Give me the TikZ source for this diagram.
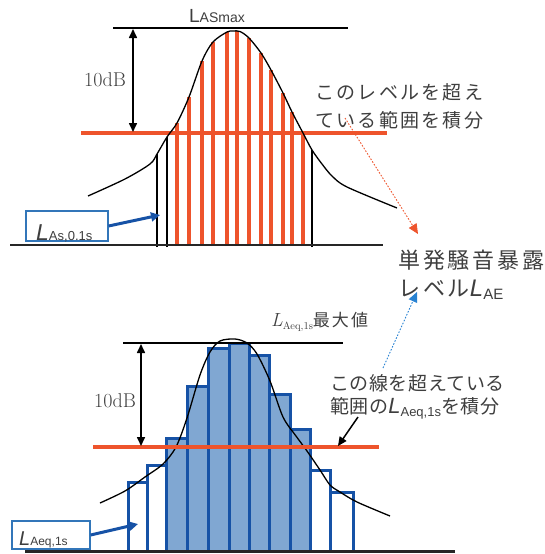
\documentclass[tikz,border=0pt]{standalone}
\usepackage{fontspec}
\usetikzlibrary{arrows.meta}
\newfontfamily\jpA{Noto Sans CJK JP}[LetterSpace=12]
\newfontfamily\jpB{Noto Sans CJK JP}[LetterSpace=13]
\newfontfamily\jpC{Noto Sans CJK JP}[LetterSpace=3]
\newfontfamily\jpD{Noto Sans CJK JP}[LetterSpace=12]
\newfontfamily\lsans{Liberation Sans}
\definecolor{myred}{RGB}{238,84,44}
\definecolor{barblue}{RGB}{22,82,166}
\definecolor{barfill}{RGB}{128,167,210}
\definecolor{boxblue}{RGB}{50,118,185}
\definecolor{txtgray}{RGB}{62,62,62}
\definecolor{dotblue}{RGB}{40,130,210}
\tikzset{
  curve/.style={black, line width=1.3pt, line join=round},
  redv/.style={myred, line width=3.2pt},
  blackv/.style={black, line width=1.8pt},
  redh/.style={myred, line width=3.4pt},
  refline/.style={black, line width=1.4pt},
  baseln/.style={black!85, line width=2pt},
  dimarrow/.style={black, line width=1.6pt, {Triangle[length=9pt,width=8pt]}-{Triangle[length=9pt,width=8pt]}},
  bluearrow/.style={barblue, line width=3pt, -{Triangle[length=9pt,width=9pt]}},
  lbox/.style={draw=boxblue, line width=1.3pt, fill=white, inner sep=0pt},
  barw/.style={draw=barblue, line width=3pt, fill=white},
  barf/.style={draw=barblue, line width=3pt, fill=barfill},
  jptext/.style={text=txtgray, inner sep=0pt, anchor=west},
  dotarrow/.style={line width=0.9pt, dash pattern=on 1.6pt off 1.6pt, -{Triangle[length=10pt,width=9pt]}},
  dblabel/.style={text=black!75, inner sep=0pt, font=\fontsize{20}{20}\selectfont},
}
\begin{document}
\begin{tikzpicture}[x=1pt,y=-1pt]
\useasboundingbox (0,0) rectangle (545,554);

% ---------------- top panel ----------------
\foreach \x/\t in {177/123,189/97,202/61,213/42,227/32,237/31,249/38,261/53,271/70,283/93,292/112,303/133}
  \draw[redv] (\x,246) -- (\x,\t);
\foreach \x/\t in {157/154,167/137,312/150}
  \draw[blackv] (\x,247) -- (\x,\t);
\draw[redh] (81,133) -- (387,133);
\draw[curve] plot[smooth, tension=0.5] coordinates {(88,196) (125,179) (150,164) (157,154) (167,137) (177,123) (189,97) (202,61) (213,42) (227,32) (233,31) (240,31.5) (249,38) (261,53) (271,70) (283,93) (292,112) (303,133) (312,150) (322,164) (332,176) (347,187) (397,208)};
\draw[refline] (113,28) -- (348,28);
\draw[baseln] (10,245) -- (383,245);
\coordinate (t1) at (133,29);
\coordinate (r1) at (133,132);
\draw[dimarrow] (t1) -- (r1);

\node[text=txtgray, font=\lsans, inner sep=0pt, anchor=base] (lasmax) at (217,22)
  {\fontsize{19}{19}\selectfont L{\fontsize{14}{14}\selectfont ASmax}};
\node[dblabel] (db1) at (105,80) {10dB};

\node[lbox, minimum width=82pt, minimum height=30pt] (box1) at (67,226) {};
\node[inner sep=0pt, anchor=base west, text=txtgray] (box1t) at (36,240)
  {{\lsans\fontsize{23}{23}\selectfont\itshape L}{\lsans\fontsize{13}{13}\selectfont As,0.1s}};
\coordinate (a1e) at (160,215);
\draw[bluearrow] (box1.east) -- (a1e);

\node[jptext] (txt1a) at (315,92) {\jpA\fontsize{19}{19}\selectfont このレベルを超え};
\node[jptext] (txt1b) at (315,120) {\jpA\fontsize{19}{19}\selectfont ている範囲を積分};

\node[jptext] (lae1) at (398,260) {\jpB\fontsize{22}{22}\selectfont 単発騒音暴露};
\node[jptext] (lae2) at (398,290) {\jpB\fontsize{22}{22}\selectfont レベル{\lsans\fontsize{24}{24}\selectfont\itshape L}{\lsans\fontsize{15}{15}\selectfont\raisebox{-3pt}{AE}}};

\coordinate (rd1) at (345,118);
\coordinate (rd2) at (418,234);
\draw[dotarrow, myred] (rd1) -- (rd2);
\coordinate (bd1) at (383,368);
\coordinate (bd2) at (417,292);
\draw[dotarrow, dotblue] (bd1) -- (bd2);

% ---------------- bottom panel ----------------
\draw[barw] (128,482) rectangle (147,551);
\draw[barw] (147,465) rectangle (166,551);
\draw[barf] (166,438) rectangle (187,551);
\draw[barf] (187,386) rectangle (208,551);
\draw[barf] (208,348) rectangle (229,551);
\draw[barf] (229,343) rectangle (249,551);
\draw[barf] (249,355) rectangle (269,551);
\draw[barf] (269,394) rectangle (290,551);
\draw[barf] (290,429) rectangle (310,551);
\draw[barw] (310,470) rectangle (330,551);
\draw[barw] (330,492) rectangle (353,551);
\draw[curve] plot[smooth, tension=0.5] coordinates {(100,503) (125,491) (145,477) (163,464) (176,447) (187,418) (200,375) (210,352) (220,341) (235,339) (247,343) (257,354) (270,381) (283,417) (296,436) (307,451) (320,470) (330,485) (340,492) (357,502) (390,516)};
\draw[redh] (93,447) -- (379,447);
\draw[refline] (123,343) -- (343,343);
\draw[baseln, line width=2.4pt] (25,551.5) -- (455,551.5);
\coordinate (t2) at (141,344);
\coordinate (r2) at (141,446);
\draw[dimarrow] (t2) -- (r2);
\node[dblabel] (db2) at (115,401) {10dB};

\node[inner sep=0pt, anchor=base west, text=txtgray] (lmax) at (271,326)
  {{\fontsize{19}{19}\selectfont\itshape L}\raisebox{-3pt}{\fontsize{10.5}{10.5}\selectfont Aeq,1s}{\jpD\fontsize{17}{17}\selectfont 最大値}};

\node[lbox, minimum width=78pt, minimum height=28pt] (box2) at (51,535) {};
\node[inner sep=0pt, anchor=base west, text=txtgray] (box2t) at (19,545)
  {{\lsans\fontsize{20}{20}\selectfont\itshape L}{\lsans\fontsize{12}{12}\selectfont Aeq,1s}};
\coordinate (a2e) at (138,524);
\draw[bluearrow] (box2.east) -- (a2e);

\node[jptext] (txt2a) at (330,383) {\jpC\fontsize{19}{19}\selectfont この線を超えている};
\node[jptext] (txt2b) at (330,408) {\jpC\fontsize{19}{19}\selectfont 範囲の{\lsans\fontsize{22}{22}\selectfont\itshape L}{\lsans\fontsize{13}{13}\selectfont\raisebox{-3pt}{Aeq,1s}}を積分};
\coordinate (ba1) at (358,417);
\coordinate (ba2) at (338,446);
\draw[black, line width=1.5pt, -{Triangle[length=9pt,width=8pt]}] (ba1) -- (ba2);
\end{tikzpicture}
\end{document}
